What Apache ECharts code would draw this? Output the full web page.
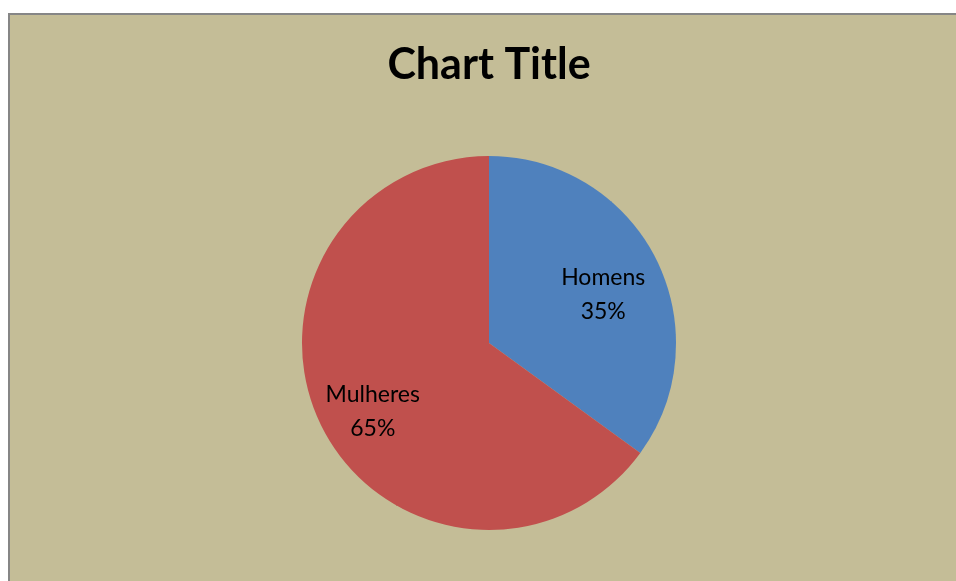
<!DOCTYPE html>
<html>
<head>
<meta charset="utf-8">
<script src="https://cdn.jsdelivr.net/npm/echarts@6/dist/echarts.min.js"></script>
<style>
  html, body { margin: 0; padding: 0; background: #fff; }
  .frame {
    position: absolute; left: 8px; top: 13px; width: 948px; height: 568px;
    border-left: 2px solid #868686; border-top: 2px solid #868686;
    background: #c4bd97;
  }
  #chart { width: 100%; height: 100%; }
</style>
</head>
<body>
<div class="frame"><div id="chart"></div></div>
<script>
const categories = ["Homens", "Mulheres"];
const shares = [35, 65];
const sliceColors = ["#4f81bd", "#c0504d"];

const chart = echarts.init(document.getElementById("chart"));
const cx = 479, cy = 328;

chart.setOption({
  backgroundColor: "transparent",
  animation: false,
  title: {
    text: "Chart Title",
    left: cx - 5,
    textAlign: "center",
    top: 24,
    textStyle: { fontFamily: "Lato", fontWeight: "bold", fontSize: 43, color: "#000" },
  },
  series: [{
    type: "pie",
    center: [cx, cy],
    radius: [0, 187],
    startAngle: 90,
    clockwise: true,
    data: categories.map((name, i) => ({
      name, value: shares[i], itemStyle: { color: sliceColors[i] },
    })),
    label: {
      show: true,
      position: "inside",
      formatter: (p) => p.name + "\n" + p.value + "%",
      fontFamily: "Lato",
      fontSize: 23,
      lineHeight: 34,
      color: "#000",
    },
    labelLayout: (params) => {
      // push inner labels further out, like the original
      const r = params.labelRect;
      const lx = r.x + r.width / 2, ly = r.y + r.height / 2;
      return { x: cx + (lx - cx) * 1.34 - 1, y: cy + (ly - cy) * 1.34 + 10 };
    },
    emphasis: { disabled: true },
  }],
});
</script>
</body>
</html>
